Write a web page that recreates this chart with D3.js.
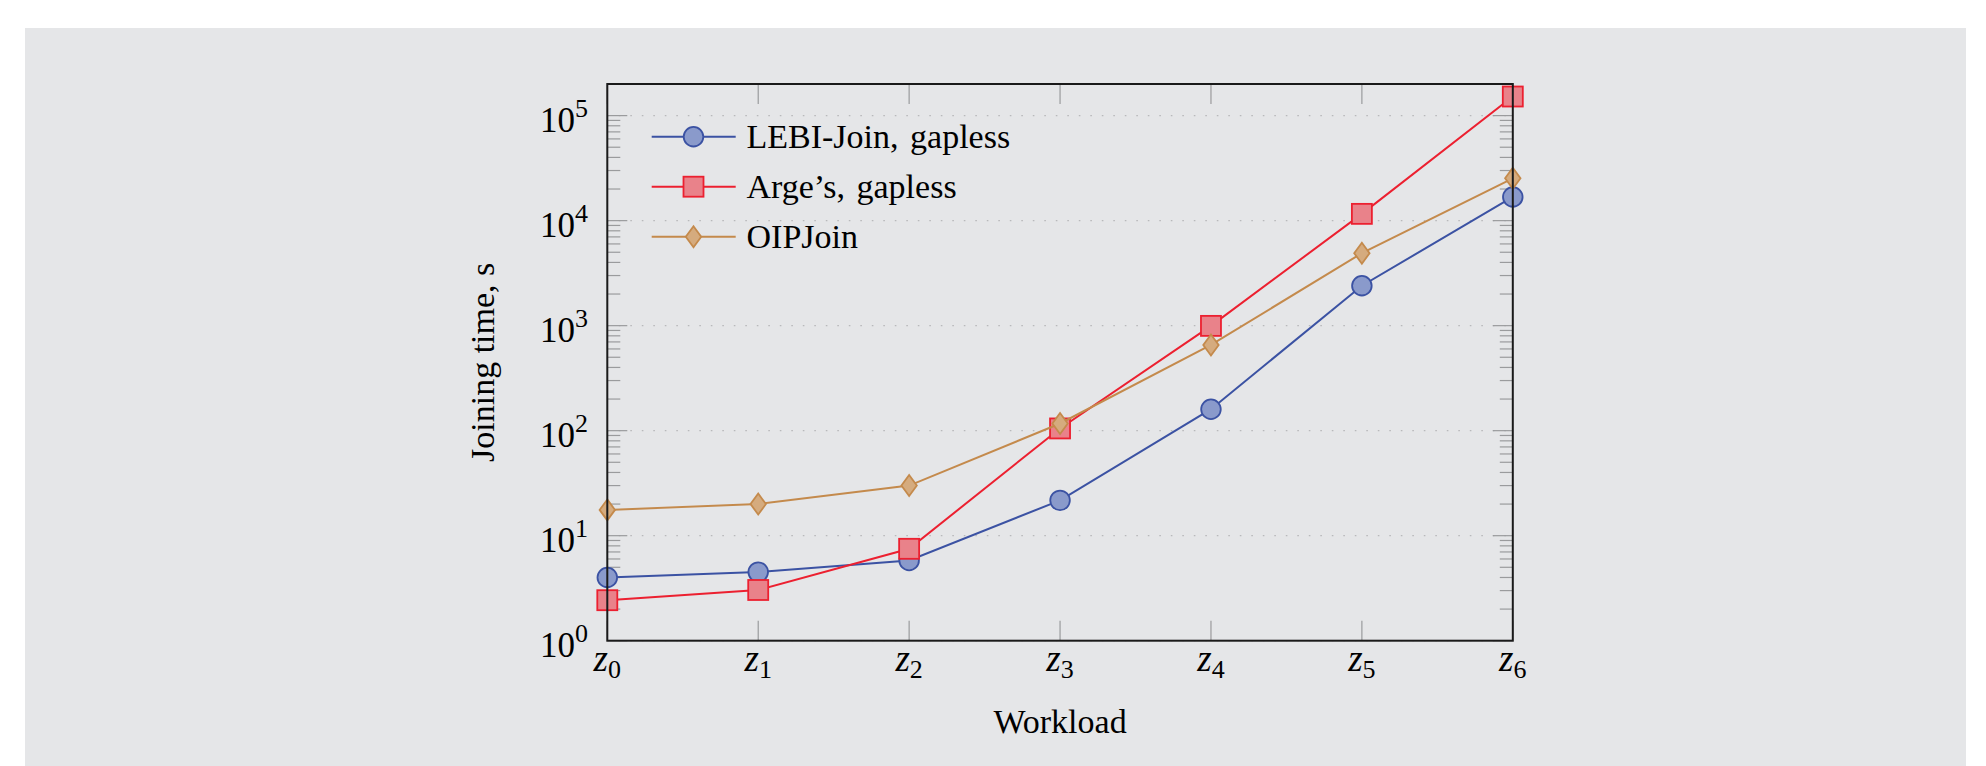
<!DOCTYPE html>
<html>
<head>
<meta charset="utf-8">
<script src="https://cdn.jsdelivr.net/npm/d3@7"></script>
<style>
  html, body { margin: 0; padding: 0; background: #fff; }
  text { font-family: "Liberation Serif", "Times New Roman", serif; fill: #000; }
</style>
</head>
<body>
<div id="chart"></div>
<script>

// data
var workloads = ["0", "1", "2", "3", "4", "5", "6"];
var lebiJoin = [4.0, 4.5, 5.8, 21.7, 160, 2400, 16800];
var argeJoin = [2.43, 3.04, 7.5, 105, 995, 11600, 152000];
var oipJoin = [17.6, 20.0, 30.0, 117, 655, 4900, 25300];
var seriesNames = ["LEBI-Join, gapless", "Arge\u2019s, gapless", "OIPJoin"];
var yTickExp = [0, 1, 2, 3, 4, 5];

var width = 1986, height = 766;
var plotLeft = 607.3, plotRight = 1512.8, plotTop = 84, plotBottom = 640.7;

var svg = d3.select("#chart").append("svg")
    .attr("width", width)
    .attr("height", height);

svg.append("rect")
    .attr("x", 25).attr("y", 28)
    .attr("width", 1941).attr("height", 738)
    .attr("fill", "#e5e6e8");

var x = d3.scalePoint()
    .domain(workloads)
    .range([plotLeft, plotRight]);

var y = d3.scaleLog()
    .domain([1, 2e5])
    .range([plotBottom, plotTop]);

var series = [
    { name: seriesNames[0], values: lebiJoin, line: "#3b52a3", fill: "#8a9acb", shape: "circle" },
    { name: seriesNames[1], values: argeJoin, line: "#ec2030", fill: "#e9828a", shape: "square" },
    { name: seriesNames[2], values: oipJoin, line: "#c48a4c", fill: "#d5ab7e", shape: "diamond" }
];

// grid lines at every decade
svg.append("g")
    .selectAll("line")
    .data(yTickExp)
    .enter().append("line")
    .attr("x1", plotLeft).attr("x2", plotRight)
    .attr("y1", function (d) { return y(Math.pow(10, d)); })
    .attr("y2", function (d) { return y(Math.pow(10, d)); })
    .attr("stroke", "#b8b9bb")
    .attr("stroke-width", 1.2)
    .attr("stroke-dasharray", "1.6,9.9");

// inward ticks, left and right
var minor = [];
yTickExp.forEach(function (e) {
    for (var k = 1; k < 10; k++) {
        var v = k * Math.pow(10, e);
        if (v >= 1 && v <= 2e5) minor.push({ v: v, major: k === 1 });
    }
});

var yTicks = svg.append("g").attr("stroke", "#9a9b9d").attr("stroke-width", 1.2);
yTicks.selectAll("line.l")
    .data(minor)
    .enter().append("line")
    .attr("class", "l")
    .attr("x1", plotLeft)
    .attr("x2", function (d) { return plotLeft + (d.major ? 20 : 13); })
    .attr("y1", function (d) { return y(d.v); })
    .attr("y2", function (d) { return y(d.v); });
yTicks.selectAll("line.r")
    .data(minor)
    .enter().append("line")
    .attr("class", "r")
    .attr("x1", plotRight)
    .attr("x2", function (d) { return plotRight - (d.major ? 20 : 13); })
    .attr("y1", function (d) { return y(d.v); })
    .attr("y2", function (d) { return y(d.v); });

// x ticks top and bottom
var xTicks = svg.append("g").attr("stroke", "#9a9b9d").attr("stroke-width", 1.2);
xTicks.selectAll("line.b")
    .data(workloads)
    .enter().append("line")
    .attr("class", "b")
    .attr("x1", function (d) { return x(d); })
    .attr("x2", function (d) { return x(d); })
    .attr("y1", plotBottom).attr("y2", plotBottom - 20);
xTicks.selectAll("line.t")
    .data(workloads)
    .enter().append("line")
    .attr("class", "t")
    .attr("x1", function (d) { return x(d); })
    .attr("x2", function (d) { return x(d); })
    .attr("y1", plotTop).attr("y2", plotTop + 20);

// tick labels
var yLab = svg.append("g")
    .selectAll("text")
    .data(yTickExp)
    .enter().append("text")
    .attr("x", 588)
    .attr("y", function (d) { return y(Math.pow(10, d)) + 16; })
    .attr("text-anchor", "end")
    .style("font-size", "35px");
yLab.append("tspan").text("10");
yLab.append("tspan")
    .attr("dy", -15)
    .style("font-size", "26px")
    .text(function (d) { return d; });

var xLab = svg.append("g")
    .selectAll("text")
    .data(workloads)
    .enter().append("text")
    .attr("x", function (d) { return x(d); })
    .attr("y", 671)
    .attr("text-anchor", "middle")
    .style("font-size", "37px");
xLab.append("tspan").style("font-style", "italic").text("z");
xLab.append("tspan")
    .attr("dy", 7)
    .style("font-size", "26px")
    .text(function (d) { return d; });

// axis titles
svg.append("text")
    .attr("x", (plotLeft + plotRight) / 2)
    .attr("y", 733)
    .attr("text-anchor", "middle")
    .style("font-size", "34px")
    .text("Workload");

svg.append("text")
    .attr("transform", "translate(494," + ((plotTop + plotBottom) / 2) + ") rotate(-90)")
    .attr("text-anchor", "middle")
    .style("font-size", "34px")
    .text("Joining time, s");

// markers
function drawMarker(g, shape, cx, cy) {
    if (shape === "circle") {
        g.append("circle").attr("cx", cx).attr("cy", cy).attr("r", 9.8);
    } else if (shape === "square") {
        g.append("rect").attr("x", cx - 10).attr("y", cy - 10).attr("width", 20).attr("height", 20);
    } else {
        g.append("path").attr("d", "M" + cx + "," + (cy - 10.5) + "L" + (cx + 7.7) + "," + cy +
            "L" + cx + "," + (cy + 10.5) + "L" + (cx - 7.7) + "," + cy + "Z");
    }
}

var line = d3.line()
    .x(function (d, i) { return x(workloads[i]); })
    .y(function (d) { return y(d); });

series.forEach(function (s) {
    svg.append("path")
        .datum(s.values)
        .attr("d", line)
        .attr("fill", "none")
        .attr("stroke", s.line)
        .attr("stroke-width", 2);
    var mg = svg.append("g")
        .attr("fill", s.fill)
        .attr("stroke", s.line)
        .attr("stroke-width", 1.8);
    s.values.forEach(function (v, i) {
        drawMarker(mg, s.shape, x(workloads[i]), y(v));
    });
});

// legend
var legend = svg.append("g");
series.forEach(function (s, i) {
    var ly = 136.7 + i * 50;
    legend.append("line")
        .attr("x1", 651.7).attr("x2", 735.7)
        .attr("y1", ly).attr("y2", ly)
        .attr("stroke", s.line)
        .attr("stroke-width", 2);
    var mg = legend.append("g")
        .attr("fill", s.fill)
        .attr("stroke", s.line)
        .attr("stroke-width", 1.8);
    drawMarker(mg, s.shape, 693.5, ly);
    legend.append("text")
        .attr("x", 746.5)
        .attr("y", ly + 11)
        .attr("word-spacing", "3px")
        .style("font-size", "34px")
        .text(s.name);
});

// frame
svg.append("rect")
    .attr("x", plotLeft).attr("y", plotTop)
    .attr("width", plotRight - plotLeft).attr("height", plotBottom - plotTop)
    .attr("fill", "none")
    .attr("stroke", "#1a1a1a")
    .attr("stroke-width", 2);

</script>
</body>
</html>
